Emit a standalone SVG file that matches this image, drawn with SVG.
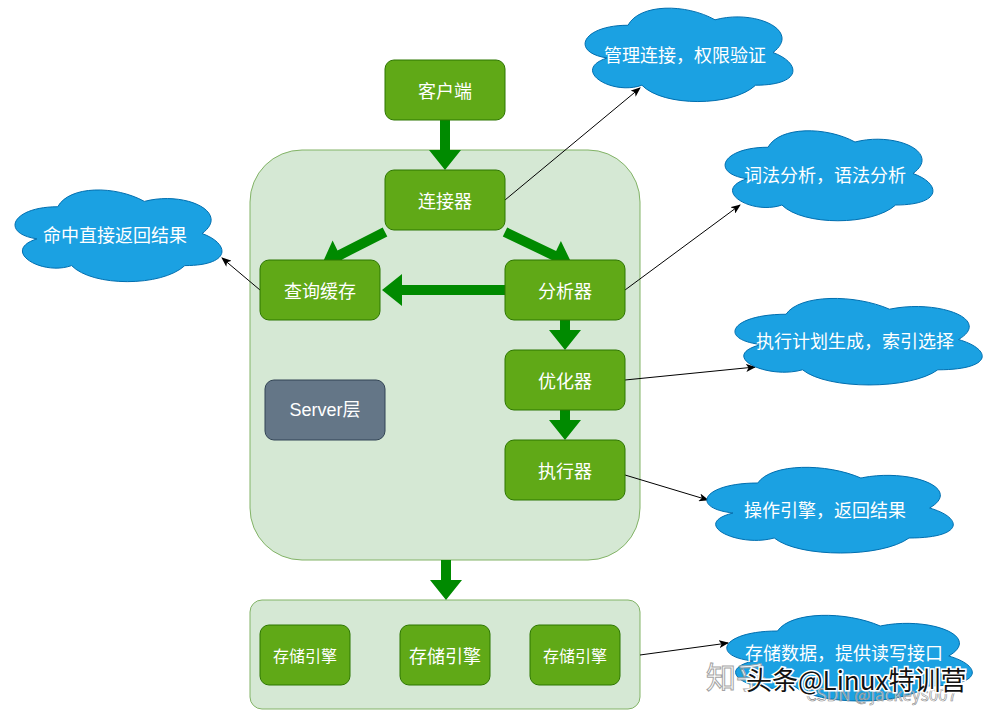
<svg xmlns="http://www.w3.org/2000/svg" width="991" height="712" viewBox="0 0 991 712">
<style>
.cont{fill:#d5e8d4;stroke:#82b366;stroke-width:1}
.node{fill:#60a917;stroke:#2d7600;stroke-width:1}
.gray{fill:#647687;stroke:#314354;stroke-width:1}
.cloud{fill:#1ba1e2;stroke:#006eaf;stroke-width:1}
.t{font-family:"Noto Sans CJK SC","Microsoft YaHei",sans-serif;font-size:18px;fill:#ffffff;text-anchor:middle;dominant-baseline:central}
.s{font-size:16px}
.big{fill:#008a00;stroke:none}
.thin{stroke:#000;stroke-width:1;fill:none;marker-end:url(#ah)}
.wm{font-family:"Noto Sans CJK SC",sans-serif}
</style>
<defs>
<marker id="ah" markerWidth="10" markerHeight="8" refX="9" refY="4" orient="auto" markerUnits="userSpaceOnUse">
<path d="M0,0 L10,4 L0,8 L2.5,4 Z" fill="#000"/>
</marker>
<path id="cl" vector-effect="non-scaling-stroke" d="M25,25 C5,25 0,50 16,55 C0,66 18,90 31,80 C40,100 70,100 80,80 C100,80 100,60 87.5,50 C100,30 80,10 62.5,20 C50,5 30,5 25,25 Z"/>
</defs>
<rect width="991" height="712" fill="#ffffff"/>

<g id="server-layer">
<rect class="cont" x="250" y="150" width="390" height="410" rx="52"/>
</g>
<g id="storage-layer">
<rect class="cont" x="250" y="600" width="390" height="109" rx="12"/>
</g>

<g id="connectors">
<polygon class="big" points="440,120 450,120 450,150 461,150 445,170 429,150 440,150"/>
<polygon class="big" points="387.3,236.5 382.7,227.5 337.5,250.4 332.6,240.6 322,264 347.1,269.2 342.1,259.4"/>
<polygon class="big" points="502.8,236.5 507.2,227.5 556.1,250.9 560.9,241 572,264 547,269.8 551.8,259.9"/>
<polygon class="big" points="505,285 505,295 402,295 402,306 382,290 402,274 402,285"/>
<polygon class="big" points="560,320 570,320 570,330 581,330 565,350 549,330 560,330"/>
<polygon class="big" points="560,410 570,410 570,420 581,420 565,440 549,420 560,420"/>
<polygon class="big" points="441,560 451,560 451,580 462,580 446,600 430,580 441,580"/>
<line class="thin" x1="260" y1="290" x2="222" y2="258"/>
<line class="thin" x1="505" y1="200" x2="640" y2="88"/>
<line class="thin" x1="625" y1="290" x2="740" y2="205"/>
<line class="thin" x1="625" y1="380" x2="755" y2="367"/>
<line class="thin" x1="625" y1="475" x2="708" y2="500"/>
<line class="thin" x1="640" y1="655" x2="728" y2="643"/>
</g>

<g id="client"><rect class="node" x="385" y="60" width="120" height="60" rx="9"/><text class="t" x="445" y="90">客户端</text></g>
<g id="connector"><rect class="node" x="385" y="170" width="120" height="60" rx="9"/><text class="t" x="445" y="200">连接器</text></g>
<g id="query-cache"><rect class="node" x="260" y="260" width="120" height="60" rx="9"/><text class="t" x="320" y="290">查询缓存</text></g>
<g id="analyzer"><rect class="node" x="505" y="260" width="120" height="60" rx="9"/><text class="t" x="565" y="290">分析器</text></g>
<g id="optimizer"><rect class="node" x="505" y="350" width="120" height="60" rx="9"/><text class="t" x="565" y="380">优化器</text></g>
<g id="executor"><rect class="node" x="505" y="440" width="120" height="60" rx="9"/><text class="t" x="565" y="470">执行器</text></g>
<g id="server-label"><rect class="gray" x="265" y="380" width="120" height="60" rx="9"/><text class="t" x="325" y="410" style="font-family:'Liberation Sans','Noto Sans CJK SC',sans-serif">Server层</text></g>
<g id="engine1"><rect class="node" x="260" y="625" width="90" height="60" rx="9"/><text class="t s" x="305" y="655">存储引擎</text></g>
<g id="engine2"><rect class="node" x="400" y="625" width="90" height="60" rx="9"/><text class="t" x="445" y="655">存储引擎</text></g>
<g id="engine3"><rect class="node" x="530" y="625" width="90" height="60" rx="9"/><text class="t s" x="575" y="655">存储引擎</text></g>

<g id="cloud-hit"><use href="#cl" class="cloud" transform="translate(0,180) scale(2.31,1.07)"/><text class="t" x="115" y="234">命中直接返回结果</text></g>
<g id="cloud-conn"><use href="#cl" class="cloud" transform="translate(570,-2) scale(2.32,1.09)"/><text class="t" x="685" y="54">管理连接，权限验证</text></g>
<g id="cloud-lex"><use href="#cl" class="cloud" transform="translate(710,121) scale(2.32,1.05)"/><text class="t" x="825" y="174">词法分析，语法分析</text></g>
<g id="cloud-plan"><use href="#cl" class="cloud" transform="translate(717,289) scale(2.76,1.01)"/><text class="t" x="855" y="340">执行计划生成，索引选择</text></g>
<g id="cloud-exec"><use href="#cl" class="cloud" transform="translate(689,458) scale(2.75,1.0)"/><text class="t" x="825" y="509">操作引擎，返回结果</text></g>
<g id="cloud-store"><use href="#cl" class="cloud" transform="translate(709,606) scale(2.74,1.0)"/><text class="t" x="844" y="652">存储数据，提供读写接口</text></g>

<g id="watermark">
<text class="wm" x="706" y="688" font-size="30" fill="#ffffff" stroke="#9a9a9a" stroke-width="1" opacity="0.9">知乎</text>
<text class="wm" x="806" y="701" font-size="17" fill="#ffffff" fill-opacity="0.6" stroke="#888" stroke-width="0.6">CSDN @jackeys007</text>
<text class="wm" x="746" y="690" font-size="26" fill="#111" stroke="#ffffff" stroke-width="3" paint-order="stroke">头条@Linux特训营</text>
</g>
</svg>
